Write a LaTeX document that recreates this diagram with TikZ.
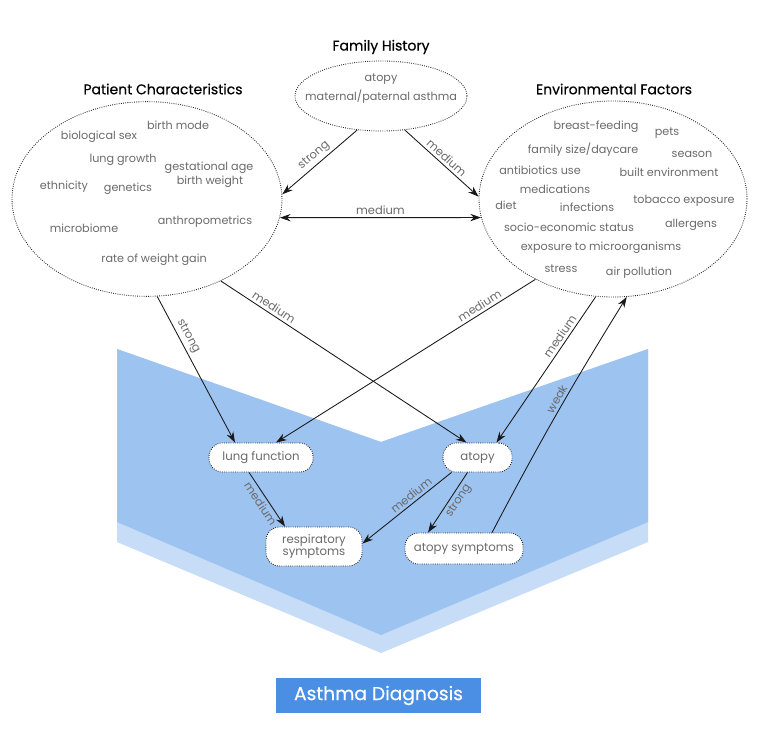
\documentclass[tikz,border=0pt]{standalone}
\usepackage{fontspec}
\setmainfont{Poppins}
\newfontfamily\headfont[FakeBold=0.35]{Poppins}
\usetikzlibrary{arrows.meta,shapes.geometric,calc}

\definecolor{bandblue}{HTML}{9DC3F0}
\definecolor{paleblue}{HTML}{C6DCF7}
\definecolor{boxblue}{HTML}{4A8FE3}
\definecolor{itemgray}{HTML}{6A6A6A}

\begin{document}
\begin{tikzpicture}[x=0.75pt,y=-0.75pt,
	group/.style={ellipse,draw=black!85,densely dotted,line width=0.65pt,inner sep=0pt},
	title/.style={font=\headfont\fontsize{10.5}{12}\selectfont,text=black},
	item/.style={font=\fontsize{8.4}{10}\selectfont,text=itemgray,inner sep=1pt},
	outcome/.style={draw=black!85,densely dotted,line width=0.65pt,fill=white,rounded corners=10pt,font=\fontsize{8.8}{9}\selectfont,text=itemgray,align=center},
	link/.style={-{Stealth[length=8pt,width=5.5pt]},line width=0.65pt,black!90},
	tag/.style={font=\fontsize{8.6}{9}\selectfont,text=itemgray,sloped,inner sep=2pt}]

			\useasboundingbox (0,0) rectangle (759,745);

			\fill[paleblue] (117,349) -- (381,442) -- (648,349) -- (648,542) -- (381,653) -- (117,542) -- cycle;
			\fill[bandblue] (117,349) -- (381,442) -- (648,349) -- (648,522) -- (381,635) -- (117,522) -- cycle;

			\node[fill=boxblue,text=white,minimum width=153.75pt,minimum height=26.25pt,font=\headfont\fontsize{14}{16}\selectfont] (diag) at (378.5,695.5) {Asthma Diagnosis};

			\node[title] (famtitle) at (381,47) {Family History};
			\node[title] (pattitle) at (163,89) {Patient Characteristics};
			\node[title] (envtitle) at (614,89) {Environmental Factors};

			\node[group,minimum width=129pt,minimum height=52.5pt] (fam) at (381,96) {};
			\node[group,minimum width=202.5pt,minimum height=146pt] (pat) at (147,199) {};
			\node[group,minimum width=201pt,minimum height=147pt] (env) at (613,199) {};

			\node[item] at (381,79) {atopy};
			\node[item] at (381,97) {maternal/paternal asthma};

			\node[item] at (178,125) {birth mode};
			\node[item] at (99,137) {biological sex};
			\node[item] at (123,160) {lung growth};
			\node[item] at (209,168) {gestational age};
			\node[item] at (210,182) {birth weight};
			\node[item] at (64,187) {ethnicity};
			\node[item] at (128,189) {genetics};
			\node[item] at (84,228) {microbiome};
			\node[item] at (205,222) {anthropometrics};
			\node[item] at (154,260) {rate of weight gain};

			\node[item] at (596,127) {breast-feeding};
			\node[item] at (667,133) {pets};
			\node[item] at (583,150) {family size/daycare};
			\node[item] at (692,154) {season};
			\node[item] at (540,170) {antibiotics use};
			\node[item] at (669,172) {built environment};
			\node[item] at (555,189) {medications};
			\node[item] at (506,205) {diet};
			\node[item] at (587,207) {infections};
			\node[item] at (684,201) {tobacco exposure};
			\node[item] at (569,227) {socio-economic status};
			\node[item] at (691,225) {allergens};
			\node[item] at (601,248) {exposure to microorganisms};
			\node[item] at (561,269) {stress};
			\node[item] at (639,273) {air pollution};

			\node[outcome,minimum width=78pt,minimum height=21.75pt] (lung) at (261,457.5) {lung function};
			\node[outcome,minimum width=51.75pt,minimum height=21.75pt] (atopy) at (477.5,457.5) {atopy};
			\node[outcome,minimum width=72pt,minimum height=29.25pt,inner sep=1pt] (resp) at (314,546.5) {respiratory\\symptoms};
			\node[outcome,minimum width=88.5pt,minimum height=23.25pt] (atsym) at (464,548.5) {atopy symptoms};

			\draw[link] (fam.-125) -- node[tag,above] {strong} (pat.2);
			\draw[link] (fam.-55) -- node[tag,above] {medium} (env.179);
			\draw[link,{Stealth[length=8pt,width=5.5pt]}-{Stealth[length=8pt,width=5.5pt]}] (pat.-8) -- node[tag,above] {medium} (env.-172);

			\draw[link] (pat.-84) -- node[tag,above,pos=0.3] {strong} ($(lung.north)+(-26,0)$);
			\draw[link] (pat.-48) -- node[tag,above,pos=0.2] {medium} ($(atopy.north)+(-11,0)$);
			\draw[link] (env.-134) -- node[tag,above,pos=0.2] {medium} ($(lung.north)+(15,0)$);
			\draw[link] (env.-100) -- node[tag,above,pos=0.3] {medium} ($(atopy.north)+(19,0)$);
			\draw[link] ($(atsym.north)+(28,0)$) to[bend left=2] node[tag,above,pos=0.55] {weak} (env.-82);

			\draw[link] ($(lung.south)+(-12,0)$) -- node[tag,below] {medium} ($(resp.north)+(-29,0)$);
			\draw[link] ($(atopy.south)+(-26,0)$) -- node[tag,above,pos=0.4] {medium} ($(resp.east)+(0,-3)$);
			\draw[link] ($(atopy.south)+(-10,0)$) -- node[tag,below,pos=0.4] {strong} ($(atsym.north)+(-36,0)$);

	\end{tikzpicture}
\end{document}
